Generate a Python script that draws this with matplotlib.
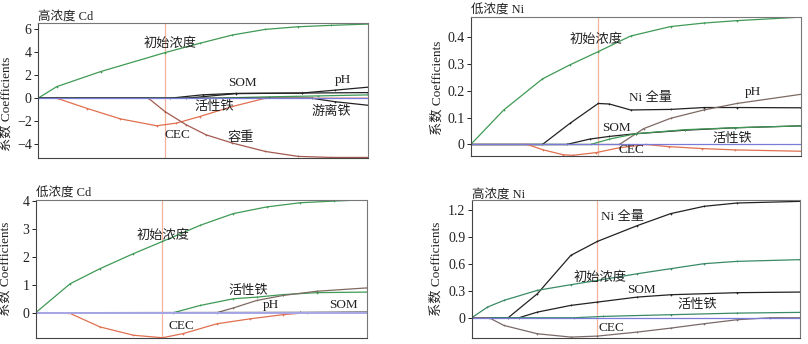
import matplotlib
matplotlib.use("Agg")
import matplotlib.pyplot as plt

plt.rcParams["font.family"] = ["Liberation Serif", "Noto Sans CJK SC", "DejaVu Sans"]

GREEN = "#3f9a55"
BLACK = "#222222"
RED = "#e07050"
BROWN = "#a45a50"
PH = "#7d6a62"
BLUE = "#7a7ad8"
VLINE = "#f4b49c"

# ---- 高浓度 Cd ----
cd_hi = {
    "init": ([0, 0.057, 0.19, 0.385, 0.49, 0.59, 0.69, 0.79, 0.89, 1.0],
             [0, 1.01, 2.32, 3.97, 4.78, 5.51, 6.0, 6.23, 6.35, 6.46], GREEN),
    "fe_act": ([0, 0.057, 0.15, 0.25, 0.36, 0.42, 0.49, 0.59, 0.69, 1.0],
               [0, 0, -0.9, -1.8, -2.4, -2.17, -1.6, -0.72, 0, 0], RED),
    "bulk": ([0, 0.335, 0.385, 0.45, 0.51, 0.59, 0.69, 0.79, 0.89, 1.0],
             [0, 0, -1.16, -2.32, -3.19, -3.91, -4.64, -5.07, -5.16, -5.16], BROWN),
    "som": ([0, 0.40, 0.5, 0.6, 0.8, 1.0],
            [0, 0, 0.3, 0.42, 0.45, 0.49], BLACK),
    "ph": ([0, 0.45, 0.6, 0.8, 0.9, 1.0],
           [0, 0, 0.4, 0.45, 0.7, 0.96], BLACK),
    "other": ([0, 0.53, 0.7, 0.85, 1.0],
              [0, 0, 0.12, 0.2, 0.29], GREEN),
    "fe_free": ([0, 0.83, 0.9, 1.0],
                [0, 0, -0.3, -0.61], BLACK),
}
cd_hi_labels = [("初始浓度", 0.40, 4.78), ("SOM", 0.62, 1.30), ("pH", 0.924, 1.59),
                ("活性铁", 0.536, -0.78), ("游离铁", 0.889, -1.16),
                ("CEC", 0.422, -3.19), ("容重", 0.614, -3.42)]

# ---- 低浓度 Ni ----
ni_lo = {
    "init": ([0, 0.10, 0.217, 0.30, 0.386, 0.484, 0.605, 0.706, 0.806, 1.0],
             [0, 0.128, 0.243, 0.295, 0.344, 0.402, 0.437, 0.45, 0.459, 0.472], GREEN),
    "ni_total": ([0, 0.217, 0.30, 0.386, 0.42, 0.484, 0.605, 0.706, 0.806, 1.0],
                 [0, 0, 0.078, 0.152, 0.15, 0.128, 0.13, 0.137, 0.137, 0.136], BLACK),
    "ph": ([0, 0.45, 0.524, 0.605, 0.706, 0.806, 1.0],
           [0, 0, 0.059, 0.097, 0.128, 0.152, 0.186], PH),
    "som": ([0, 0.29, 0.36, 0.42, 0.5, 0.65, 0.8, 1.0],
            [0, 0, 0.02, 0.03, 0.04, 0.053, 0.062, 0.069], BLACK),
    "fe_act": ([0, 0.363, 0.42, 0.5, 0.65, 0.8, 1.0],
               [0, 0, 0.02, 0.04, 0.055, 0.062, 0.069], GREEN),
    "cec": ([0, 0.171, 0.22, 0.28, 0.31, 0.38, 0.45, 0.53, 0.6, 0.7, 0.8, 1.0],
            [0, 0, -0.02, -0.038, -0.040, -0.03, -0.012, 0.0, -0.008, -0.015, -0.02, -0.025], RED),
}
ni_lo_labels = [("初始浓度", 0.378, 0.388), ("Ni 全量", 0.544, 0.171), ("pH", 0.855, 0.196),
                ("SOM", 0.44, 0.062), ("活性铁", 0.791, 0.022), ("CEC", 0.487, -0.021)]

# ---- 低浓度 Cd ----
cd_lo = {
    "init": ([0, 0.104, 0.194, 0.295, 0.383, 0.497, 0.597, 0.698, 0.799, 0.9, 1.0],
             [0, 1.04, 1.58, 2.12, 2.56, 3.14, 3.56, 3.80, 3.95, 4.01, 4.06], GREEN),
    "fe_act": ([0, 0.416, 0.497, 0.597, 0.668, 0.748, 0.849, 1.0],
               [0, 0, 0.26, 0.5, 0.56, 0.65, 0.72, 0.74], GREEN),
    "ph": ([0, 0.547, 0.597, 0.668, 0.748, 0.849, 1.0],
           [0, 0, 0.17, 0.44, 0.62, 0.77, 0.89], PH),
    "som": ([0, 0.8, 1.0],
            [0, 0.01, 0.02], BLACK),
    "cec": ([0, 0.099, 0.194, 0.295, 0.383, 0.446, 0.547, 0.648, 0.748, 0.82, 1.0],
            [0, 0, -0.51, -0.81, -0.9, -0.75, -0.4, -0.22, -0.07, 0, 0], RED),
}
cd_lo_labels = [("初始浓度", 0.386, 2.75), ("活性铁", 0.642, 0.77), ("pH", 0.71, 0.26),
                ("SOM", 0.93, 0.26), ("CEC", 0.439, -0.48)]

# ---- 高浓度 Ni ----
ni_hi = {
    "ni_total": ([0, 0.111, 0.2, 0.302, 0.383, 0.505, 0.606, 0.708, 0.809, 1.0],
                 [0, 0, 0.268, 0.697, 0.853, 1.03, 1.163, 1.245, 1.282, 1.30], BLACK),
    "init": ([0, 0.048, 0.098, 0.2, 0.302, 0.383, 0.505, 0.606, 0.708, 0.809, 1.0],
             [0, 0.119, 0.194, 0.306, 0.369, 0.417, 0.492, 0.548, 0.604, 0.63, 0.649], "#3a8a68"),
    "som": ([0, 0.144, 0.2, 0.302, 0.383, 0.505, 0.606, 0.809, 1.0],
            [0, 0, 0.063, 0.138, 0.175, 0.231, 0.257, 0.28, 0.287], BLACK),
    "fe_act": ([0, 0.312, 0.4, 0.606, 0.809, 1.0],
               [0, 0, 0.015, 0.034, 0.052, 0.06], "#3a8a68"),
    "cec": ([0, 0.053, 0.098, 0.2, 0.302, 0.383, 0.505, 0.606, 0.708, 0.809, 0.91, 1.0],
            [0, 0, -0.086, -0.179, -0.216, -0.205, -0.16, -0.116, -0.067, -0.022, 0, 0], "#7a6a6a"),
}
ni_hi_labels = [("Ni 全量", 0.459, 1.126), ("初始浓度", 0.39, 0.444), ("SOM", 0.517, 0.313),
                ("活性铁", 0.687, 0.138), ("CEC", 0.425, -0.116)]

panels = [
    # title, series, labels, rect, ylim, yticks, ticklabels, vline, ylabel pos, zero-line colour
    ("高浓度 Cd", cd_hi, cd_hi_labels, [0.047, 0.541, 0.408, 0.392], (-5.2, 6.55),
     [-4, -2, 0, 2, 4, 6], ["−4", "−2", "0", "2", "4", "6"], 0.385, (-0.078, 0.40), BLUE),
    ("低浓度 Ni", ni_lo, ni_lo_labels, [0.5826, 0.547, 0.4087, 0.404], (-0.042, 0.473),
     [0, 0.1, 0.2, 0.3, 0.4], ["0", "0.1", "0.2", "0.3", "0.4"], 0.386, (-0.083, 0.49), BLUE),
    ("低浓度 Cd", cd_lo, cd_lo_labels, [0.0442, 0.0174, 0.4096, 0.4021], (-0.91, 4.06),
     [0, 1, 2, 3, 4], ["0", "1", "2", "3", "4"], 0.383, (-0.072, 0.50), "#a8a8e8"),
    ("高浓度 Ni", ni_hi, ni_hi_labels, [0.5838, 0.0183, 0.4062, 0.3994], (-0.223, 1.312),
     [0, 0.3, 0.6, 0.9, 1.2], ["0", "0.3", "0.6", "0.9", "1.2"], 0.383, (-0.09, 0.50), BLUE),
]

fig = plt.figure(figsize=(8.08, 3.44), dpi=100)

for title, series, labels, rect, ylim, yt, ytl, vx, ylpos, zc in panels:
    ax = fig.add_axes(rect)
    # zero line sits above the paths so inactive stretches stay blue
    ax.axhline(0, color=zc, lw=1.4 if zc != BLUE else 0.9, zorder=2.5)
    ax.axvline(vx, color=VLINE, lw=0.9, zorder=1)
    for name, (xs, ys, c) in series.items():
        ax.plot(xs, ys, color=c, lw=0.9, marker="+", ms=1.6, mew=0.5, zorder=2)
    for txt, tx, ty in labels:
        ax.text(tx, ty, txt, fontsize=9.5, ha="center", va="center", color="#222222", zorder=3)
    ax.set_xlim(0, 1)
    ax.set_ylim(*ylim)
    ax.set_yticks(yt)
    ax.set_yticklabels(ytl)
    ax.set_xticks([])
    ax.tick_params(axis="y", labelsize=10, length=3, width=0.7, pad=1.5, colors="#222222")
    for s in ax.spines.values():
        s.set_color("#777777")
        s.set_linewidth(0.8)
    ax.spines["bottom"].set_color("#444444")
    ax.spines["left"].set_color("#444444")
    ax.set_title(title, loc="left", fontsize=9, pad=2, color="#222222")
    ax.set_ylabel("系数 Coefficients", fontsize=9.5, color="#222222")
    ax.yaxis.set_label_coords(*ylpos)

fig.savefig("out.png", dpi=100)
